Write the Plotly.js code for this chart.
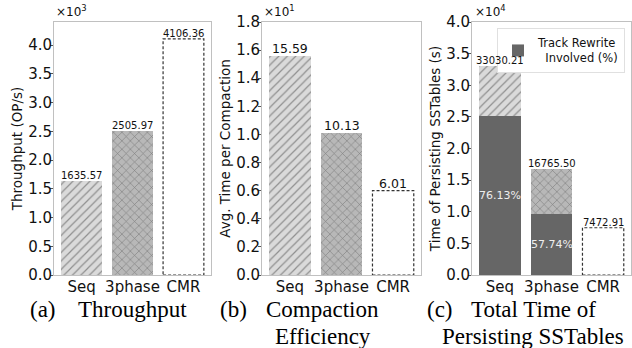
<!DOCTYPE html>
<html><head><meta charset="utf-8">
<script src="https://cdn.plot.ly/plotly-3.0.1.min.js"></script>
<style>html,body{margin:0;padding:0;background:#fff}#c{width:632px;height:348px}</style>
</head><body><div id="c"></div>
<script>
const categories = ["Seq", "3phase", "CMR"];
const throughput = [1635.57, 2505.97, 4106.36];
const compactionTime = [15.59, 10.13, 6.01];
const persistTotal = [33030.21, 16765.50, 7472.91];
const rewritePct = [76.13, 57.74, null];
const throughputTicks = [0, 500, 1000, 1500, 2000, 2500, 3000, 3500, 4000];
const compactionTicks = [0, 2, 4, 6, 8, 10, 12, 14, 16, 18];
const persistTicks = [0, 5000, 10000, 15000, 20000, 25000, 30000, 35000, 40000];

const W = 632, H = 348;
const px = v => v / W, py = v => (H - v) / H;
const FONT = "DejaVu Sans, sans-serif";
const SERIF = "Liberation Serif, Times New Roman, serif";

const fillBg = ["#dadada", "#b8b8b8", "#ffffff"];
const fillFg = ["#8c8c8c", "#6e6e6e", "#ffffff"];
const shapes = ["/", "x", ""];

function pat() {
  return { shape: shapes, fgcolor: fillFg, fillmode: "overlay", size: 6, solidity: 0.2 };
}
function barTrace(vals, xa, ya) {
  return {
    type: "bar", x: categories, y: vals, xaxis: xa, yaxis: ya, showlegend: false,
    marker: { color: fillBg, line: { width: 0 }, pattern: pat() }, hoverinfo: "skip"
  };
}

const darkVals = persistTotal.map((t, i) => rewritePct[i] == null ? 0 : t * rewritePct[i] / 100);
const upperVals = persistTotal.map((t, i) => t - darkVals[i]);

const traces = [
  barTrace(throughput, "x", "y"),
  barTrace(compactionTime, "x2", "y2"),
  { type: "bar", x: categories, y: darkVals, xaxis: "x3", yaxis: "y3", name: "Track Rewrite<br>  Involved (%)",
    marker: { color: "#666666", line: { width: 0 } }, showlegend: true, hoverinfo: "skip" },
  { type: "bar", x: categories, y: upperVals, xaxis: "x3", yaxis: "y3", showlegend: false,
    marker: { color: fillBg, line: { width: 0 }, pattern: pat() }, hoverinfo: "skip" }
];

const dom = [[54, 211], [262, 421], [472, 631]];
const yd = [py(275), py(22)];

function xax(i) {
  return { domain: [px(dom[i][0]), px(dom[i][1])], range: [-0.54, 2.54], showline: true, mirror: true,
    linecolor: "#c0c0c0", linewidth: 1, ticks: "", tickfont: { family: FONT, size: 15, color: "#111" },
    anchor: i === 0 ? "y" : "y" + (i + 1), fixedrange: true, ticklabelstandoff: -2 };
}
function yax(i, rng, tv, scale, title) {
  return { domain: yd, range: rng, tickvals: tv, ticktext: tv.map(v => (v / scale).toFixed(1)),
    showline: true, mirror: true, linecolor: "#c0c0c0", linewidth: 1, ticks: "outside", ticklen: 3,
    tickcolor: "#555", showgrid: false, zeroline: false,
    tickfont: { family: FONT, size: 15, color: "#111" }, ticklabelstandoff: -5,
    title: { text: title, font: { family: FONT, size: 13.5, color: "#111" }, standoff: 2 },
    anchor: i === 0 ? "x" : "x" + (i + 1) };
}

const ann = [];
function lab(xref, yref, x, y, text, size) {
  ann.push({ xref, yref, x, y, text, showarrow: false, yanchor: "bottom", xanchor: "center",
    font: { family: FONT, size, color: "#111" }, yshift: -2 });
}
categories.forEach((c, i) => {
  lab("x", "y", c, throughput[i], throughput[i].toFixed(2), 10);
  lab("x2", "y2", c, compactionTime[i], compactionTime[i].toFixed(2), 12.5);
  lab("x3", "y3", c, persistTotal[i], persistTotal[i].toFixed(2), 10);
  if (rewritePct[i] != null) {
    ann.push({ xref: "x3", yref: "y3", x: c, y: darkVals[i] / 2, text: rewritePct[i].toFixed(2) + "%",
      showarrow: false, font: { family: FONT, size: 11, color: "#eeeeee" } });
  }
});
// exponent labels
[["×10<sup>3</sup>", 54], ["×10<sup>1</sup>", 262], ["×10<sup>4</sup>", 473]].forEach(([t, x]) => {
  ann.push({ xref: "paper", yref: "paper", x: px(x), y: py(21), text: t, showarrow: false,
    xanchor: "left", yanchor: "bottom", font: { family: FONT, size: 12, color: "#111" } });
});
// captions
function cap(x, y, t) {
  ann.push({ xref: "paper", yref: "paper", x: px(x), y: py(y), text: t, showarrow: false,
    xanchor: "left", yanchor: "middle", font: { family: SERIF, size: 23, color: "#000" } });
}
cap(28, 309, "(a)"); cap(76, 309, "Throughput");
cap(218, 309, "(b)"); cap(264, 309, "Compaction"); cap(273, 336, "Efficiency");
cap(425, 309, "(c)"); cap(469, 309, "Total Time of"); cap(440, 336, "Persisting SSTables");

// dashed outlines for CMR bars
const shp = [];
function dashRect(xref, yref, i, v) {
  shp.push({ type: "rect", xref, yref, x0: i - 0.4, x1: i + 0.4, y0: 0, y1: v,
    line: { color: "#333", width: 1.2, dash: "3px,2px" }, fillcolor: "rgba(0,0,0,0)" });
}
dashRect("x", "y", 2, throughput[2]);
dashRect("x2", "y2", 2, compactionTime[2]);
dashRect("x3", "y3", 2, persistTotal[2]);

const layout = {
  width: W, height: H, margin: { l: 0, r: 0, t: 0, b: 0 }, paper_bgcolor: "#fff", plot_bgcolor: "#fff",
  barmode: "stack", bargap: 0.2,
  xaxis: xax(0), xaxis2: xax(1), xaxis3: xax(2),
  yaxis: yax(0, [0, 4400], throughputTicks, 1000, "Throughput (OP/s)"),
  yaxis2: yax(1, [0, 18], compactionTicks, 10, "Avg. Time per Compaction"),
  yaxis3: yax(2, [0, 40000], persistTicks, 10000, "Time of Persisting SSTables (s)"),
  legend: { x: px(625), y: py(28), xanchor: "right", yanchor: "top", bgcolor: "#fff",
    bordercolor: "#e0e0e0", borderwidth: 1, font: { family: FONT, size: 11.5, color: "#111" },
    itemwidth: 30, tracegroupgap: 0 },
  annotations: ann, shapes: shp
};
Plotly.newPlot("c", traces, layout, { staticPlot: true, displayModeBar: false });
</script></body></html>
